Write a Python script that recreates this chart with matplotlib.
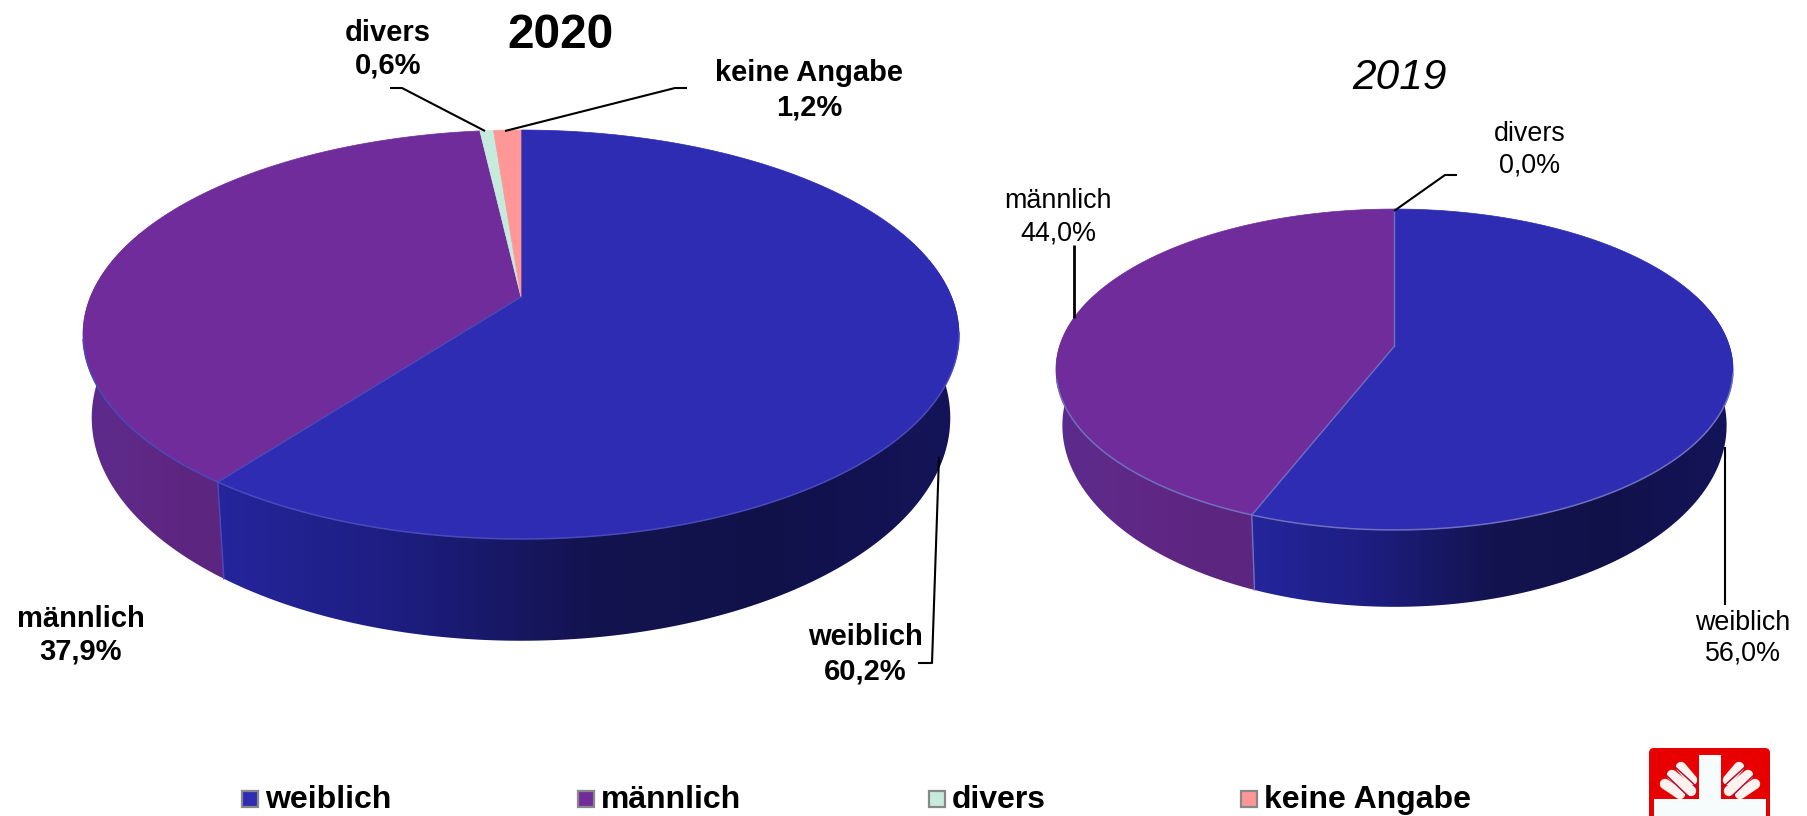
import numpy as np
import matplotlib
matplotlib.use("Agg")
import matplotlib.pyplot as plt
from matplotlib.patches import Polygon, Rectangle, FancyBboxPatch

plt.rcParams['font.family'] = ['Liberation Sans', 'DejaVu Sans']

categories = ["weiblich", "männlich", "divers", "keine Angabe"]
values_2020 = [60.2, 37.9, 0.6, 1.2]
values_2019 = [56.0, 44.0, 0.0, 0.0]

top_colors = ["#2d2cb2", "#702c9b", "#c6ebdc", "#ff9797"]
# wall shading, colours going left to right across the pie
wall_stops = {
    "weiblich": ["#25259c", "#1d1d80", "#13134f", "#11114a", "#14145a"],
    "männlich": ["#5a2a8e", "#5e2a88", "#602784", "#5c2680", "#5c2680"],
}


def rim(a, geo, lower=False):
    # a is degrees clockwise from the back of the pie, the plane is seen in perspective
    r = np.radians(a)
    w = 1 + geo["k"] * np.cos(r)
    if lower:
        x = geo["x0"] + geo["sx"] * geo["A"] * np.sin(r) / w
        y = geo["y1"] - geo["sy"] * geo["B"] * np.cos(r) / w
    else:
        x = geo["x0"] + geo["A"] * np.sin(r) / w
        y = geo["y0"] - geo["B"] * np.cos(r) / w
    return np.column_stack([x, y])


def drawWall(ax, a1, a2, name, geo):
    a1 = max(a1, 70)
    a2 = min(a2, 290)
    if a2 <= a1 or name not in wall_stops:
        return
    arc = np.linspace(a1, a2, 200)
    pts = np.vstack([rim(arc, geo), rim(arc[::-1], geo, lower=True)])
    poly = Polygon(pts, closed=True, facecolor="none", edgecolor="none")
    ax.add_patch(poly)

    # horizontal gradient clipped to the wall shape
    stops = matplotlib.colors.to_rgba_array(wall_stops[name])[:, :3]
    xmin, xmax = pts[:, 0].min(), pts[:, 0].max()
    xs = np.linspace(0, 1, 256)
    pos = np.linspace(0, 1, len(stops))
    grad = np.stack([np.interp(xs, pos, stops[:, i]) for i in range(3)], axis=1)[None, :, :]
    im = ax.imshow(grad, extent=[xmin, xmax, pts[:, 1].max(), pts[:, 1].min()],
                   aspect="auto", zorder=2, interpolation="bilinear")
    im.set_clip_path(poly)


def drawPie(ax, values, geo):
    total = sum(values)
    bounds = np.concatenate([[0], np.cumsum(values)]) / total * 360
    for i, name in enumerate(categories):
        drawWall(ax, bounds[i], bounds[i + 1], name, geo)
        if values[i] > 0 and 70 < bounds[i] < 290:
            seam = np.vstack([rim(bounds[i], geo), rim(bounds[i], geo, lower=True)])
            ax.plot(seam[:, 0], seam[:, 1], color=geo["line"], lw=1, zorder=3)
    for i, name in enumerate(categories):
        if values[i] <= 0:
            continue
        arc = np.linspace(bounds[i], bounds[i + 1], 300)
        pts = np.vstack([[geo["x0"], geo["y0"]], rim(arc, geo)])
        ax.add_patch(Polygon(pts, closed=True, facecolor=top_colors[i],
                             edgecolor=top_colors[i], lw=0.5, zorder=4))
    # thin lighter lines along the front of the slices only
    for i, name in enumerate(categories[:2]):
        arc = np.linspace(max(bounds[i], 100), min(bounds[i + 1], 258), 200)
        pts = rim(arc, geo)
        ax.plot(pts[:, 0], pts[:, 1], color=geo["line"], lw=1.1, zorder=5)
    edge = rim(bounds[1], geo)[0]
    ax.plot([geo["x0"], edge[0]], [geo["y0"], edge[1]], color=geo["line"], lw=1, zorder=5)
    if geo["line_top"]:
        ax.plot([geo["x0"], geo["x0"]], [geo["y0"], geo["y0"] - geo["B"] / (1 + geo["k"])],
                color=geo["line"], lw=1, zorder=5)


def drawLogo(ax):
    ax.add_patch(FancyBboxPatch((1652, 751), 115, 90, boxstyle="round,pad=3,rounding_size=5",
                                facecolor="#e80000", edgecolor="none", zorder=6))
    ax.add_patch(Rectangle((1699, 755), 22, 50, facecolor="#f6fbfb", edgecolor="none", zorder=7))
    ax.add_patch(Rectangle((1654, 799), 112, 30, facecolor="#f6fbfb", edgecolor="none", zorder=7))
    strokes = [((1681, 767), (1692, 780)), ((1672, 775), (1691, 791)), ((1665, 784), (1680, 794))]
    for (x1, y1), (x2, y2) in strokes:
        for mirror in [False, True]:
            xa, xb = (2 * 1710 - x1, 2 * 1710 - x2) if mirror else (x1, x2)
            ax.plot([xa, xb], [y1, y2], color="#fdf2ee", lw=7.5, solid_capstyle="round", zorder=7)
    for (x1, y1), (x2, y2) in [((1674, 766), (1697, 787)), ((1666, 775), (1689, 797))]:
        for mirror in [False, True]:
            xa, xb = (2 * 1710 - x1, 2 * 1710 - x2) if mirror else (x1, x2)
            ax.plot([xa, xb], [y1, y2], color="#a8123c", lw=1.1, zorder=8)


fig = plt.figure(figsize=(18.07, 8.16), dpi=100)
ax = fig.add_axes([0, 0, 1, 1])

geo_2020 = dict(x0=521, y0=297, A=430.6, B=197.6, k=0.1834, y1=377, sx=0.98, sy=1.09,
                line="#4a4ab8", line_top=False)
geo_2019 = dict(x0=1394.5, y0=346, A=334.9, B=157.0, k=0.1464, y1=399, sx=0.981, sy=1.13,
                line="#6f6fc0", line_top=True)
drawPie(ax, values_2020, geo_2020)
drawPie(ax, values_2019, geo_2019)

# leader lines
leaders = [
    ([390, 402, 485], [88, 88, 131], 1.5),
    ([687, 675, 505], [88, 88, 131], 1.5),
    ([918, 932, 939], [663, 663, 457], 1.5),
    ([1457, 1445, 1394], [175, 175, 211], 1.5),
    ([1074, 1074], [245, 318], 2),
    ([1725, 1725], [447, 605], 1.5),
]
for xs, ys, lw in leaders:
    ax.plot(xs, ys, color="black", lw=lw, zorder=9, solid_capstyle="butt")

ax.text(561, 36, "2020", fontsize=34.5, fontweight="bold", ha="center", va="center")
ax.text(1400, 78, "2019", fontsize=30.5, fontstyle="italic", ha="center", va="center")

bold_labels = [
    (388, 33, "divers"), (388, 66, "0,6%"),
    (809, 73, "keine Angabe"), (809, 107, "1,2%"),
    (81, 619, "männlich"), (81, 652, "37,9%"),
    (865, 637, "weiblich"), (865, 671, "60,2%"),
]
for x, y, s in bold_labels:
    ax.text(x, y, s, fontsize=21, fontweight="bold", ha="center", va="center")

plain_labels = [
    (1530, 134, "divers"), (1530, 165, "0,0%"),
    (1058, 201, "männlich"), (1058, 233, "44,0%"),
    (1743, 623, "weiblich"), (1743, 653, "56,0%"),
]
for x, y, s in plain_labels:
    ax.text(x, y, s, fontsize=19.4, ha="center", va="center")

# legend
swatch_x = [241, 577, 928, 1240]
for x, name, col in zip(swatch_x, categories, top_colors):
    ax.add_patch(Rectangle((x + 1, 791), 16, 16, facecolor=col, edgecolor="#888888", lw=1.6, zorder=9))
    ax.text(x + 24, 800, name, fontsize=23, fontweight="bold", ha="left", va="center")

drawLogo(ax)

ax.set_xlim(0, 1807)
ax.set_ylim(816, 0)
ax.axis("off")
fig.savefig("out.png", dpi=100, facecolor="white")
